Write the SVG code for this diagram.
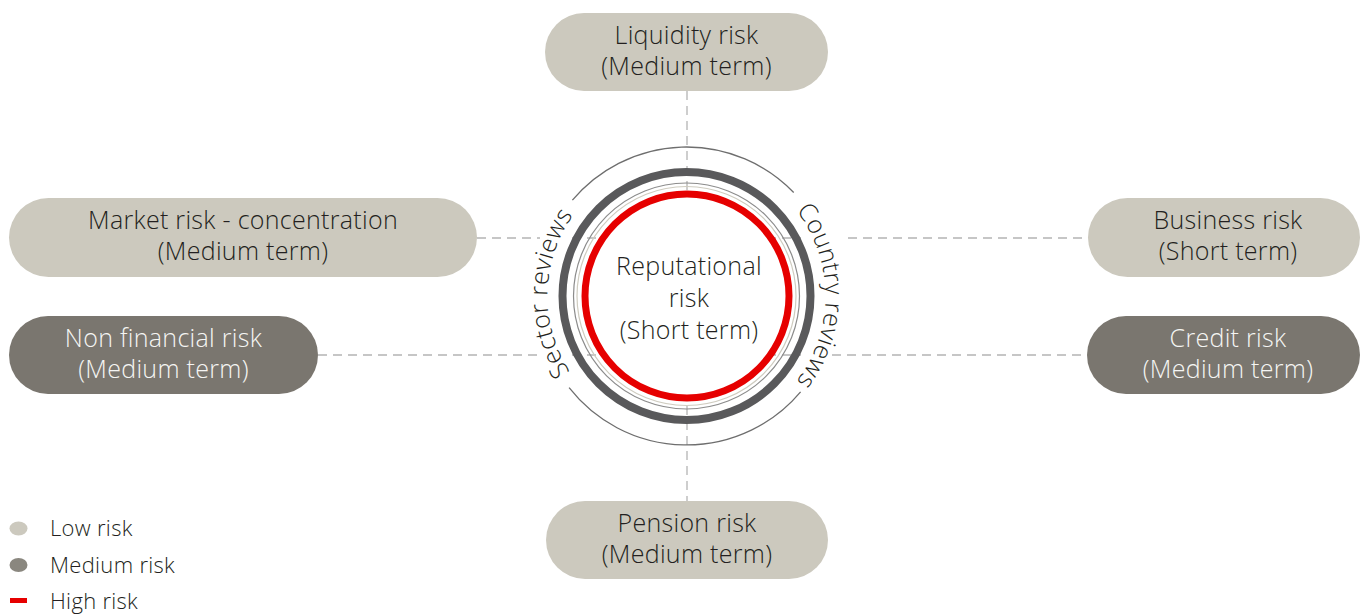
<svg xmlns="http://www.w3.org/2000/svg" width="1360" height="615" viewBox="0 0 1360 615">
<defs>
<style>
text{font-family:"Open Sans","Noto Sans","Liberation Sans",sans-serif;font-size:25px;font-weight:350;letter-spacing:0.3px;fill:#231f20}
.low{fill:#ccc9be}
.med{fill:#7a766f}
.lt{text-anchor:middle;fill:#231f20}
.dt{text-anchor:middle;fill:#f5f5f3}
.dash{stroke:#b4b4b4;stroke-width:1.3;stroke-dasharray:9 6;fill:none}
.arc{stroke:#6e6e6e;stroke-width:1.3;fill:none}
.leg{font-size:22px}
</style>
<path id="sectorPath" d="M617,416.4 A139,139 0 0 1 617,175.6"/>
<path id="countryPath" d="M756,175.6 A139,139 0 0 1 756,416.4"/>
</defs>
<rect width="1360" height="615" fill="#ffffff"/>

<g id="connectors">
<line class="dash" x1="687" y1="91" x2="687" y2="502"/>
<line class="dash" x1="477" y1="238" x2="540" y2="238"/>
<line class="dash" x1="848" y1="238" x2="1088" y2="238"/>
<line class="dash" x1="572" y1="238" x2="801" y2="238"/>
<line class="dash" x1="318" y1="355" x2="540" y2="355"/>
<line class="dash" x1="832" y1="355" x2="1087" y2="355"/>
<line class="dash" x1="572" y1="355" x2="801" y2="355"/>
</g>

<g id="center">
<path class="arc" d="M572.4,200.2 A149,149 0 0 1 793.7,192.5"/>
<path class="arc" d="M800.6,391.8 A149,149 0 0 1 569.1,387.7"/>
<text><textPath href="#sectorPath" startOffset="51%" text-anchor="middle">Sector reviews</textPath></text>
<text><textPath href="#countryPath" startOffset="50%" text-anchor="middle">Country reviews</textPath></text>
<circle cx="686.5" cy="296" r="124" fill="none" stroke="#59595b" stroke-width="8"/>
<circle cx="686.5" cy="296" r="113" fill="none" stroke="#8c8c8c" stroke-width="1.2"/>
<circle cx="686.5" cy="296" r="109.5" fill="none" stroke="#cfccc0" stroke-width="1.2"/>
<circle cx="687" cy="296" r="102" fill="#ffffff" stroke="#e60000" stroke-width="7"/>
<text class="lt" x="689" y="275">Reputational</text>
<text class="lt" x="689" y="307">risk</text>
<text class="lt" x="689" y="339">(Short term)</text>
</g>

<g id="liquidity">
<rect class="low" x="545" y="13" width="283" height="78" rx="39"/>
<text class="lt" x="686.5" y="44">Liquidity risk</text>
<text class="lt" x="686.5" y="75">(Medium term)</text>
</g>

<g id="market">
<rect class="low" x="9" y="198" width="468" height="79" rx="39.5"/>
<text class="lt" x="243" y="229">Market risk - concentration</text>
<text class="lt" x="243" y="260">(Medium term)</text>
</g>

<g id="nonfinancial">
<rect class="med" x="9" y="316" width="309" height="78" rx="39"/>
<text class="dt" x="163.5" y="347">Non financial risk</text>
<text class="dt" x="163.5" y="378">(Medium term)</text>
</g>

<g id="business">
<rect class="low" x="1088" y="198" width="272" height="79" rx="39.5"/>
<text class="lt" x="1228" y="229">Business risk</text>
<text class="lt" x="1228" y="260">(Short term)</text>
</g>

<g id="credit">
<rect class="med" x="1087" y="316" width="273" height="78" rx="39"/>
<text class="dt" x="1228" y="347">Credit risk</text>
<text class="dt" x="1228" y="378">(Medium term)</text>
</g>

<g id="pension">
<rect class="low" x="546" y="501" width="282" height="78" rx="39"/>
<text class="lt" x="687" y="532">Pension risk</text>
<text class="lt" x="687" y="563">(Medium term)</text>
</g>

<g id="legend">
<ellipse class="low" cx="18.5" cy="528.5" rx="9" ry="7"/>
<ellipse cx="18.5" cy="565" rx="9" ry="7" fill="#8a877f"/>
<rect x="10" y="598" width="17" height="5" fill="#e60000"/>
<text class="leg" x="50" y="536">Low risk</text>
<text class="leg" x="50" y="573">Medium risk</text>
<text class="leg" x="50" y="609">High risk</text>
</g>
</svg>
